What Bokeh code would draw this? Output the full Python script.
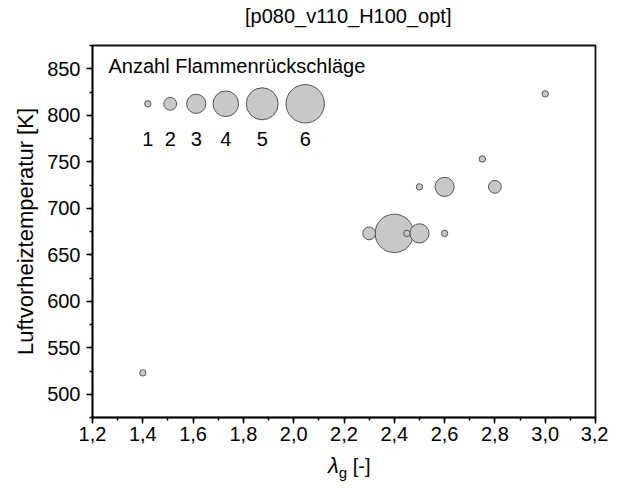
from bokeh.plotting import figure
from bokeh.layouts import column
from bokeh.models import Range1d, SingleIntervalTicker, CustomJSTickFormatter, ColumnDataSource, Div
from bokeh.embed import file_html
from bokeh.resources import INLINE
from bokeh.core.properties import value

# ---------------- data ----------------
lambda_g = [1.4, 2.3, 2.4, 2.45, 2.5, 2.6, 2.5, 2.6, 2.8, 2.75, 3.0]
temperature = [523, 673, 673, 673, 673, 673, 723, 723, 723, 753, 823]
flashbacks = [1, 2, 6, 1, 3, 1, 1, 3, 2, 1, 1]

legend_counts = [1, 2, 3, 4, 5, 6]

title_text = "[p080_v110_H100_opt]"
y_label = "Luftvorheiztemperatur [K]"
legend_title = "Anzahl Flammenrückschläge"

# ---------------- layout / style ----------------
FONT = "Liberation Sans"
W = 608
X0, X1 = 1.2, 3.2
Y0, Y1 = 475, 875
FW, FH = 503, 372
PX_PER_COUNT = 6.4          # bubble diameter per flashback
FILL = "#c8c8c8"
EDGE = "#555555"

def fx(dx):  # frame pixel offset from left -> data x
    return X0 + dx * (X1 - X0) / FW

def fy(dy):  # frame pixel offset from top -> data y
    return Y1 - dy * (Y1 - Y0) / FH

p = figure(frame_width=FW, frame_height=FH,
           x_range=Range1d(X0, X1), y_range=Range1d(Y0, Y1),
           output_backend="svg", toolbar_location=None,
           min_border_left=92, min_border_right=W - 92 - FW,
           min_border_top=5, min_border_bottom=35)

p.grid.visible = False
p.outline_line_color = "#111111"
p.outline_line_width = 1.8
p.background_fill_color = "white"
p.border_fill_color = "white"

p.xaxis.ticker = SingleIntervalTicker(interval=0.2, num_minor_ticks=2)
p.yaxis.ticker = SingleIntervalTicker(interval=50, num_minor_ticks=2)
p.xaxis.formatter = CustomJSTickFormatter(code="return tick.toFixed(1).replace('.', ',');")
p.yaxis.formatter = CustomJSTickFormatter(code="return tick.toFixed(0);")

for ax in (p.xaxis, p.yaxis):
    ax.axis_line_width = 1.5
    ax.axis_line_color = "black"
    ax.major_tick_line_width = 1.5
    ax.minor_tick_line_width = 1.5
    ax.major_tick_line_color = "black"
    ax.minor_tick_line_color = "black"
    ax.major_tick_in = 0
    ax.major_tick_out = 6
    ax.minor_tick_in = 0
    ax.minor_tick_out = 3
    ax.major_label_text_font = FONT
    ax.major_label_text_font_size = "20px"
    ax.major_label_text_color = "black"
p.xaxis.major_label_standoff = 3
p.yaxis.major_label_standoff = 6

p.yaxis.axis_label = y_label
p.yaxis.axis_label_text_font = FONT
p.yaxis.axis_label_text_font_size = "22px"
p.yaxis.axis_label_text_font_style = "normal"
p.yaxis.axis_label_text_color = "black"
p.yaxis.axis_label_standoff = 6

# data bubbles, biggest drawn first
order = sorted(range(len(flashbacks)), key=lambda i: -flashbacks[i])
src = ColumnDataSource(dict(
    x=[lambda_g[i] for i in order],
    y=[temperature[i] for i in order],
    s=[flashbacks[i] * PX_PER_COUNT for i in order],
))
p.scatter("x", "y", size="s", source=src, fill_color=FILL, line_color=EDGE, line_width=1)

# bubble-size legend
gaps = [12.8, 10, 7.2, 7.6, 7.8]
cx = [55.3]
for i in range(1, len(legend_counts)):
    r_prev = legend_counts[i - 1] * PX_PER_COUNT / 2
    r_cur = legend_counts[i] * PX_PER_COUNT / 2
    cx.append(cx[-1] + r_prev + r_cur + gaps[i - 1])
leg_x = [fx(c) for c in cx]
p.scatter(leg_x, [fy(58.3)] * len(legend_counts),
          size=[n * PX_PER_COUNT for n in legend_counts],
          fill_color=FILL, line_color=EDGE, line_width=1)
p.text(leg_x, [fy(93.5)] * len(legend_counts), text=[str(n) for n in legend_counts],
       text_font=value(FONT), text_font_size="20px", text_align="center",
       text_baseline="middle", text_color="black")
p.text([fx(16)], [fy(20)], text=[legend_title], text_font=value(FONT),
       text_font_size="20px", text_align="left", text_baseline="middle",
       text_color="black")

# title and x-axis label as HTML text above / below the figure
title_div = Div(
    text=('<div style="margin-left:245px; padding-top:6px; line-height:20px; '
          'white-space:nowrap">' + title_text + '</div>'),
    width=W, height=40, margin=(0, 0, 0, 0),
    styles={"font-family": FONT, "font-size": "20px", "color": "black"},
)
xlabel_div = Div(
    text=('<div style="margin-left:328px; padding-top:4px; line-height:20px; '
          'white-space:nowrap"><i style="font-size:22px">λ</i>'
          '<sub style="font-size:15px; line-height:0">g</sub>&nbsp;[-]</div>'),
    width=W, height=29, margin=(0, 0, 0, 0),
    styles={"font-family": FONT, "font-size": "20px", "color": "black"},
)

layout = column(title_div, p, xlabel_div, spacing=0)
open("out.html", "w").write(file_html(layout, INLINE))
